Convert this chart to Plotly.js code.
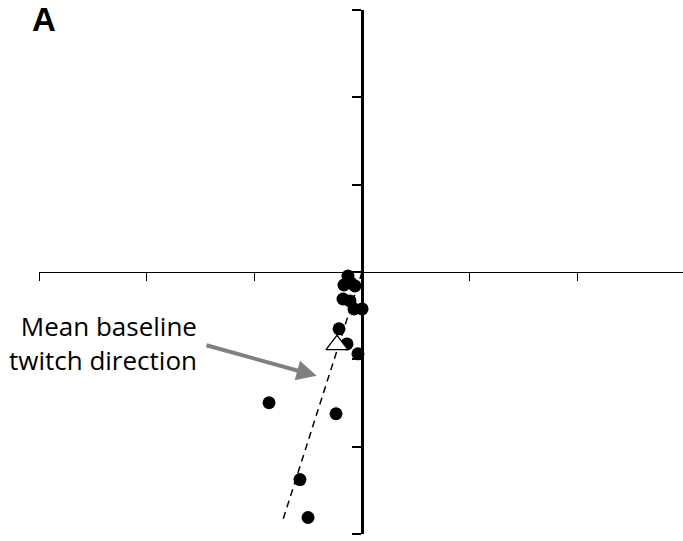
<!DOCTYPE html>
<html>
<head>
<meta charset="utf-8">
<script src="https://cdn.plot.ly/plotly-3.0.1.min.js"></script>
<style>html,body{margin:0;padding:0;background:#fff;}#chart{width:683px;height:541px;}</style>
</head>
<body>
<div id="chart"></div>
<script>
// Individual twitch directions (arbitrary units)
const twitchX = [-0.131, -0.168, -0.103, -0.066, -0.177, -0.112, -0.075, 0.000, -0.214, -0.140, -0.038, -0.864, -0.242, -0.577, -0.502];
const twitchY = [-0.046, -0.149, -0.126, -0.160, -0.309, -0.331, -0.423, -0.423, -0.651, -0.823, -0.937, -1.497, -1.623, -2.377, -2.811];
// Mean baseline twitch direction
const meanX = [-0.233];
const meanY = [-0.834];
// Direction line (origin to end)
const dirLineX = [0, -0.734];
const dirLineY = [0, -2.834];
// Axis ticks
const xTickVals = [-3, -2, -1, 0, 1, 2];
const yTickVals = [-3, -2, -1, 0, 1, 2, 3];
const xRange = [-3, 2.98];
const yRange = [-3, 3];
const annotationText = 'Mean baseline<br>twitch direction';
const panelLabel = '<b>A</b>';

const traces = [
  {x: dirLineX, y: dirLineY, mode: 'lines', type: 'scatter',
   line: {color: '#000', width: 1.5, dash: '7px,5px'}, hoverinfo: 'skip', cliponaxis: false},
  {x: twitchX, y: twitchY, mode: 'markers', type: 'scatter',
   marker: {symbol: 'circle', size: 13, color: '#000'}, cliponaxis: false},
  {x: meanX, y: meanY, mode: 'markers', type: 'scatter',
   marker: {symbol: 'triangle-up', size: 19, color: '#fff', line: {color: '#000', width: 1.3}}, cliponaxis: false}
];

const yPos = (0 - xRange[0]) / (xRange[1] - xRange[0]);
const xPos = (0 - yRange[0]) / (yRange[1] - yRange[0]);

const layout = {
  width: 683, height: 541,
  margin: {l: 39, r: 0, t: 10, b: 7},
  paper_bgcolor: '#fff', plot_bgcolor: '#fff',
  showlegend: false,
  font: {family: 'Open Sans, sans-serif', color: '#000'},
  xaxis: {range: xRange, tickmode: 'array', tickvals: xTickVals, showticklabels: false,
          ticks: 'outside', ticklen: 8, tickwidth: 1, tickcolor: '#000',
          showline: true, linecolor: '#000', linewidth: 1.3, showgrid: false, zeroline: false,
          anchor: 'free', position: xPos, fixedrange: true},
  yaxis: {range: yRange, tickmode: 'array', tickvals: yTickVals, showticklabels: false,
          ticks: 'outside', ticklen: 9, tickwidth: 2, tickcolor: '#000',
          showline: true, linecolor: '#000', linewidth: 2.5, showgrid: false, zeroline: false,
          anchor: 'free', position: yPos, fixedrange: true},
  annotations: [
    {xref: 'x', yref: 'y', x: -1.514, y: -0.811, xanchor: 'right', yanchor: 'middle',
     text: annotationText, showarrow: false, align: 'right',
     font: {family: 'Open Sans, sans-serif', size: 26, color: '#000'}},
    {xref: 'x', yref: 'y', axref: 'x', ayref: 'y', x: -0.422, y: -1.189, ax: -1.459, ay: -0.834,
     text: '', showarrow: true, arrowhead: 2, arrowsize: 1, arrowwidth: 4, arrowcolor: '#808080', standoff: 0},
    {xref: 'paper', yref: 'paper', x: -0.0125, y: 1.019, xanchor: 'left', yanchor: 'top',
     text: panelLabel, showarrow: false, borderpad: 0,
     font: {family: 'Liberation Sans, Arial, sans-serif', size: 33, color: '#000'}}
  ]
};

Plotly.newPlot('chart', traces, layout, {displayModeBar: false, staticPlot: true});
</script>
</body>
</html>
